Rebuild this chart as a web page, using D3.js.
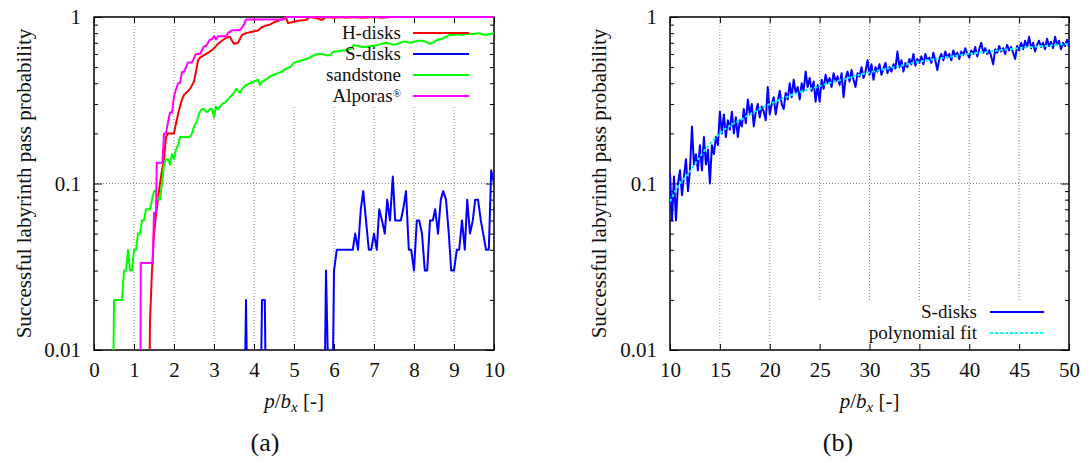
<!DOCTYPE html>
<html>
<head>
<meta charset="utf-8">
<script src="https://cdn.jsdelivr.net/npm/d3@7"></script>
<style>
  body { margin: 0; background: #fff; }
  svg text { font-family: "Liberation Serif", "Times New Roman", Tinos, "DejaVu Serif", "Noto Serif", FreeSerif, serif !important; fill: #111; }
</style>
</head>
<body>
<svg id="chart" width="1091" height="463"></svg>
<script>
// ---- data, panel (a): [p/bx, probability], 0 = no pass (drawn below the axis)
const hDisks = [[1.35,0],[1.4,0.015],[1.45,0.03],[1.5,0.05],[1.55,0.065],[1.6,0.08],[1.65,0.1],[1.7,0.12],
  [1.75,0.14],[1.8,0.19],[1.85,0.2],[1.9,0.2],[1.95,0.2],[2.0,0.2],[2.05,0.23],[2.1,0.26],[2.15,0.29],
  [2.2,0.32],[2.25,0.34],[2.3,0.35],[2.4,0.37],[2.5,0.41],[2.55,0.47],[2.6,0.55],[2.65,0.57],[2.75,0.59],
  [2.9,0.62],[3.0,0.65],[3.1,0.69],[3.2,0.72],[3.3,0.75],[3.4,0.76],[3.45,0.72],[3.5,0.69],[3.6,0.7],
  [3.7,0.78],[3.8,0.8],[3.9,0.81],[4.0,0.82],[4.1,0.83],[4.2,0.87],[4.3,0.89],[4.4,0.9],[4.5,0.93],
  [4.6,0.95],[4.7,0.97],[4.8,0.99],[4.85,0.92],[4.95,0.93],[5.1,0.95],[5.3,0.96],[5.4,1.0],[5.6,0.98],
  [5.7,0.96],[5.8,1.0],[6.0,0.99],[6.2,1.0],[6.3,0.99],[6.5,1.0],[6.7,0.99],[7.0,1.0],[7.2,0.99],
  [7.4,1.0],[8.0,1.0],[9.0,1.0],[10.0,1.0]];

const sDisksA = [[3.73,0],[3.8,0.02],[3.87,0],[4.13,0],[4.2,0.02],[4.27,0.02],[4.33,0],[5.73,0],
  [5.8,0.03],[5.93,0],[6.0,0.03],[6.07,0.04],[6.13,0.04],[6.2,0.04],[6.27,0.04],[6.33,0.04],[6.4,0.04],
  [6.47,0.04],[6.53,0.05],[6.6,0.04],[6.67,0.07],[6.73,0.09],[6.8,0.06],[6.87,0.04],[6.93,0.04],
  [7.0,0.05],[7.07,0.04],[7.13,0.07],[7.2,0.06],[7.27,0.05],[7.33,0.08],[7.4,0.06],[7.47,0.11],
  [7.53,0.06],[7.6,0.06],[7.67,0.06],[7.73,0.07],[7.8,0.09],[7.87,0.04],[7.93,0.04],[8.0,0.03],
  [8.07,0.06],[8.13,0.06],[8.2,0.05],[8.27,0.03],[8.33,0.03],[8.4,0.06],[8.47,0.06],[8.53,0.07],
  [8.6,0.05],[8.67,0.08],[8.73,0.09],[8.8,0.08],[8.87,0.05],[8.93,0.03],[9.0,0.03],[9.07,0.04],
  [9.13,0.04],[9.2,0.06],[9.27,0.04],[9.33,0.08],[9.4,0.05],[9.47,0.06],[9.53,0.08],[9.6,0.08],
  [9.67,0.06],[9.73,0.05],[9.8,0.04],[9.87,0.04],[9.93,0.12],[10.0,0.1]];

const sandstone = [[0.45,0],[0.5,0.02],[0.55,0.02],[0.6,0.02],[0.65,0.02],[0.7,0.02],[0.75,0.03],
  [0.8,0.03],[0.85,0.04],[0.9,0.03],[0.95,0.03],[1.0,0.04],[1.05,0.04],[1.1,0.05],[1.15,0.05],[1.2,0.06],
  [1.25,0.06],[1.3,0.07],[1.35,0.07],[1.4,0.07],[1.45,0.08],[1.5,0.09],[1.55,0.09],[1.6,0.08],[1.65,0.08],
  [1.7,0.1],[1.75,0.13],[1.8,0.14],[1.85,0.14],[1.9,0.13],[1.95,0.15],[2.0,0.14],[2.05,0.16],[2.1,0.17],
  [2.15,0.19],[2.2,0.19],[2.3,0.19],[2.4,0.19],[2.45,0.2],[2.5,0.22],[2.55,0.23],[2.6,0.25],[2.65,0.27],
  [2.7,0.28],[2.75,0.28],[2.8,0.27],[2.85,0.27],[2.9,0.28],[2.95,0.28],[3.0,0.25],[3.05,0.29],[3.1,0.28],
  [3.15,0.29],[3.2,0.3],[3.3,0.31],[3.4,0.33],[3.5,0.35],[3.55,0.37],[3.6,0.36],[3.65,0.35],[3.7,0.37],
  [3.8,0.39],[3.9,0.4],[4.0,0.41],[4.1,0.42],[4.15,0.39],[4.2,0.41],[4.3,0.42],[4.4,0.44],[4.5,0.45],
  [4.6,0.46],[4.7,0.47],[4.8,0.49],[4.9,0.5],[5.0,0.53],[5.1,0.54],[5.2,0.55],[5.3,0.56],[5.4,0.57],
  [5.5,0.59],[5.6,0.6],[5.7,0.6],[5.8,0.59],[5.9,0.59],[6.0,0.62],[6.1,0.62],[6.2,0.63],[6.3,0.63],
  [6.4,0.64],[6.5,0.68],[6.6,0.67],[6.7,0.66],[6.8,0.66],[6.9,0.67],[7.0,0.67],[7.1,0.68],[7.2,0.69],
  [7.3,0.7],[7.4,0.69],[7.5,0.68],[7.6,0.69],[7.7,0.71],[7.8,0.71],[7.9,0.7],[8.0,0.71],[8.1,0.72],
  [8.2,0.72],[8.3,0.71],[8.4,0.69],[8.5,0.71],[8.6,0.73],[8.7,0.74],[8.8,0.76],[8.9,0.78],[9.0,0.78],
  [9.1,0.79],[9.2,0.78],[9.3,0.79],[9.4,0.79],[9.5,0.79],[9.6,0.8],[9.7,0.79],[9.8,0.78],[9.9,0.79],[10.0,0.8]];

const alporas = [[1.15,0],[1.17,0.0333],[1.47,0.0333],[1.5,0.0667],[1.55,0.0667],[1.57,0.1333],
  [1.71,0.1333],[1.75,0.2],[1.8,0.2],[1.85,0.2333],[1.9,0.2667],[1.95,0.2667],[2.0,0.3333],[2.05,0.3667],
  [2.1,0.4],[2.15,0.4],[2.2,0.4667],[2.25,0.4667],[2.3,0.5],[2.35,0.5333],[2.45,0.5333],[2.5,0.5667],
  [2.55,0.6],[2.65,0.6],[2.7,0.6333],[2.75,0.6667],[2.8,0.6667],[2.85,0.7],[2.9,0.7333],[2.95,0.7333],
  [3.0,0.7667],[3.05,0.7333],[3.1,0.7667],[3.3,0.7667],[3.35,0.8],[3.45,0.8333],[3.65,0.8333],
  [3.7,0.8667],[3.75,0.9],[3.8,0.9667],[3.85,0.9667],[4.75,0.9667],[4.8,1.0],[10.0,1.0]];

// ---- data, panel (b): S-disks sampled every 0.2 from p/bx = 10
const sDisksBStart = 10, sDisksBStep = 0.2;
const sDisksB = [
  0.115,0.06,0.11,0.06,0.1, 0.12,0.085,0.11,0.14,0.09, 0.12,0.22,0.13,0.15,0.12, 0.17,0.12,0.19,0.13,0.16,
  0.1,0.17,0.15,0.19,0.17, 0.27,0.2,0.26,0.19,0.24, 0.21,0.27,0.2,0.25,0.19, 0.24,0.22,0.28,0.23,0.32,
  0.26,0.3,0.22,0.27,0.3, 0.25,0.29,0.27,0.24,0.38, 0.26,0.3,0.33,0.26,0.31, 0.36,0.3,0.28,0.35,0.32,
  0.4,0.33,0.42,0.35,0.38, 0.32,0.4,0.36,0.47,0.38, 0.43,0.36,0.41,0.31,0.39, 0.31,0.42,0.37,0.45,0.4,
  0.43,0.38,0.46,0.41,0.44, 0.39,0.46,0.33,0.43,0.47, 0.41,0.48,0.42,0.38,0.46, 0.44,0.5,0.43,0.47,0.55,
  0.45,0.52,0.42,0.5,0.47, 0.52,0.45,0.49,0.53,0.46, 0.5,0.47,0.52,0.49,0.62, 0.5,0.55,0.47,0.53,0.5,
  0.56,0.52,0.6,0.51,0.56, 0.53,0.58,0.52,0.6,0.55, 0.57,0.53,0.61,0.55,0.48, 0.56,0.6,0.55,0.62,0.57,
  0.6,0.55,0.63,0.58,0.61, 0.56,0.62,0.59,0.65,0.6, 0.57,0.63,0.6,0.66,0.58, 0.64,0.7,0.61,0.65,0.6,
  0.63,0.58,0.52,0.64,0.61, 0.67,0.62,0.65,0.6,0.68, 0.63,0.66,0.61,0.56,0.67, 0.63,0.7,0.64,0.72,0.66,
  0.76,0.65,0.7,0.62,0.68, 0.72,0.66,0.7,0.64,0.74, 0.67,0.71,0.65,0.76,0.68, 0.72,0.64,0.7,0.67,0.73,
  0.66];
const polyFitX = [10,11,12,13,15,17.5,20,22.5,25,27.5,30,32.5,35,37.5,40,42.5,45,47.5,50];
const polyFitP = [0.078,0.1,0.118,0.145,0.2,0.25,0.3,0.345,0.385,0.425,0.465,0.5,0.54,0.57,0.6,0.625,0.65,0.67,0.69];

const xTicksA = [0,1,2,3,4,5,6,7,8,9,10];
const xTicksB = [10,15,20,25,30,35,40,45,50];
const yMajor = [0.01, 0.1, 1];
const yMinor = [2,3,4,5,6,7,8,9].flatMap(m => [m * 0.01, m * 0.1]);

const svg = d3.select("#chart");
svg.append("rect").attr("width", 1091).attr("height", 463).attr("fill", "#fff");

const TOP = 17, BOTTOM = 350;
const floorP = 0.001; // where zero values go: well below the visible range

function drawPanel(o) {
  const x = d3.scaleLinear().domain(o.xDomain).range([o.left, o.right]);
  const y = d3.scaleLog().domain([0.01, 1]).range([BOTTOM, TOP]);
  const g = svg.append("g");

  // dotted grid
  const grid = g.append("g").attr("stroke", "#888").attr("stroke-width", 1).attr("stroke-dasharray", "1,2");
  grid.selectAll("line.v").data(o.xTicks.slice(1, -1)).join("line").attr("class", "v")
    .attr("x1", d => x(d)).attr("x2", d => x(d)).attr("y1", TOP).attr("y2", BOTTOM);
  grid.append("line").attr("x1", o.left).attr("x2", o.right).attr("y1", y(0.1)).attr("y2", y(0.1));

  // opaque key background hides the grid
  g.append("rect").attr("x", o.key.x).attr("y", o.key.y).attr("width", o.key.w).attr("height", o.key.h)
    .attr("fill", "#fff");

  // ticks, all pointing inward
  const tickStyle = s => {
    s.attr("font-family", null);
    s.select(".domain").remove();
    s.selectAll(".tick line").attr("stroke", "#000");
    s.selectAll("text").style("font-size", "21px").attr("fill", "#111");
  };
  g.append("g").attr("transform", `translate(0,${BOTTOM})`)
    .call(d3.axisBottom(x).tickValues(o.xTicks).tickSize(-6).tickPadding(12).tickFormat(d3.format("d")))
    .call(tickStyle);
  g.append("g").attr("transform", `translate(0,${TOP})`)
    .call(d3.axisTop(x).tickValues(o.xTicks).tickSize(-6).tickFormat("")).call(tickStyle);
  g.append("g").attr("transform", `translate(${o.left},0)`)
    .call(d3.axisLeft(y).tickValues(yMajor).tickSize(-8).tickPadding(13).tickFormat(d3.format("~g")))
    .call(tickStyle);
  g.append("g").attr("transform", `translate(${o.left},0)`)
    .call(d3.axisLeft(y).tickValues(yMinor).tickSize(-4).tickFormat("")).call(tickStyle);
  g.append("g").attr("transform", `translate(${o.right},0)`)
    .call(d3.axisRight(y).tickValues(yMajor).tickSize(-8).tickFormat("")).call(tickStyle);
  g.append("g").attr("transform", `translate(${o.right},0)`)
    .call(d3.axisRight(y).tickValues(yMinor).tickSize(-4).tickFormat("")).call(tickStyle);

  // frame
  g.append("rect").attr("x", o.left).attr("y", TOP).attr("width", o.right - o.left).attr("height", BOTTOM - TOP)
    .attr("fill", "none").attr("stroke", "#000").attr("stroke-width", 1.5);

  // y label
  g.append("text").attr("transform", `translate(${o.ylabX},${(TOP + BOTTOM) / 2}) rotate(-90)`)
    .attr("text-anchor", "middle").style("font-size", "21px")
    .text("Successful labyrinth pass probability");

  // x label p/b_x [-]
  const xl = g.append("text").attr("x", (o.left + o.right) / 2).attr("y", 408)
    .attr("text-anchor", "middle").style("font-size", "21px");
  xl.append("tspan").style("font-style", "italic").text("p");
  xl.append("tspan").text("/");
  xl.append("tspan").style("font-style", "italic").text("b");
  xl.append("tspan").style("font-style", "italic").style("font-size", "15px").attr("dy", 4).text("x");
  xl.append("tspan").attr("dy", -4).text(" [-]");

  // sub-figure label
  g.append("text").attr("x", o.capX).attr("y", 451).attr("text-anchor", "middle")
    .style("font-size", "26px").text(o.caption);

  // clipped plot layer
  const clipId = "clip-" + o.caption.replace(/\W/g, "");
  g.append("clipPath").attr("id", clipId)
    .append("rect").attr("x", o.left).attr("y", TOP - 1).attr("width", o.right - o.left).attr("height", BOTTOM - TOP + 1);
  const plot = g.append("g").attr("clip-path", `url(#${clipId})`);

  return { x, y, g, plot };
}

function seriesLine(x, y) {
  return d3.line().x(d => x(d[0])).y(d => y(d[1] > 0 ? d[1] : floorP));
}

function addKey(g, items, textX, lineX1, lineX2, y0, dy) {
  items.forEach((it, i) => {
    const yy = y0 + i * dy;
    const t = g.append("text").attr("x", textX).attr("y", yy + 6).attr("text-anchor", "end")
      .style("font-size", "19px").text(it.label);
    if (it.sup) t.append("tspan").attr("dy", -5).style("font-size", "11px").text(it.sup);
    g.append("line").attr("x1", lineX1).attr("x2", lineX2).attr("y1", yy).attr("y2", yy)
      .attr("stroke", it.color).attr("stroke-width", 2).attr("stroke-dasharray", it.dash || null);
  });
}

// ---- panel (a)
const A = drawPanel({ xDomain: [0, 10], left: 94, right: 494, xTicks: xTicksA, ylabX: 31, capX: 265,
  caption: "(a)", key: { x: 285, y: TOP, w: 200, h: 89 } });
const lineA = seriesLine(A.x, A.y);
[[hDisks, "#ff0000"], [sDisksA, "#0000ff"], [sandstone, "#00ff00"], [alporas, "#ff00ff"]].forEach(([d, c]) => {
  A.plot.append("path").datum(d).attr("d", lineA).attr("fill", "none").attr("stroke", c)
    .attr("stroke-width", 2).attr("stroke-linejoin", "round");
});
addKey(A.g, [
  { label: "H-disks", color: "#ff0000" },
  { label: "S-disks", color: "#0000ff" },
  { label: "sandstone", color: "#00ff00" },
  { label: "Alporas", sup: "®", color: "#ff00ff" }
], 401, 413, 469, 33, 21);

// ---- panel (b)
const B = drawPanel({ xDomain: [10, 50], left: 670, right: 1069, xTicks: xTicksB, ylabX: 606, capX: 838,
  caption: "(b)", key: { x: 805, y: 301, w: 257, h: 49 } });
const lineB = seriesLine(B.x, B.y);
const sDisksBPts = sDisksB.map((p, i) => [sDisksBStart + i * sDisksBStep, p]);
B.plot.append("path").datum(sDisksBPts).attr("d", lineB).attr("fill", "none").attr("stroke", "#0000ff")
  .attr("stroke-width", 2).attr("stroke-linejoin", "round");
B.plot.append("path").datum(polyFitX.map((v, i) => [v, polyFitP[i]]))
  .attr("d", lineB.curve(d3.curveMonotoneX)).attr("fill", "none").attr("stroke", "#00ffff")
  .attr("stroke-width", 2).attr("stroke-dasharray", "3,2");
addKey(B.g, [
  { label: "S-disks", color: "#0000ff" },
  { label: "polynomial fit", color: "#00ffff", dash: "3,2" }
], 977, 990, 1044, 312, 21);
</script>
</body>
</html>
